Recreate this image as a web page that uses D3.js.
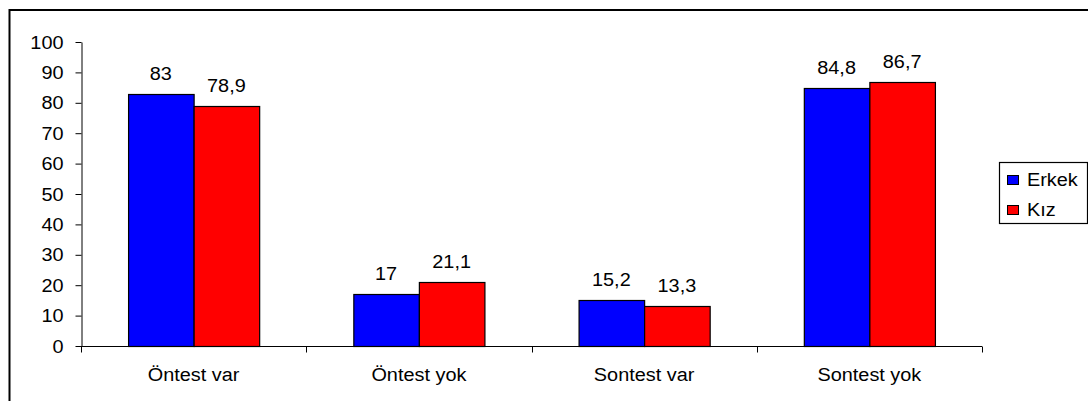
<!DOCTYPE html>
<html>
<head>
<meta charset="utf-8">
<script src="https://cdn.jsdelivr.net/npm/d3@7"></script>
<style>
  html, body { margin: 0; padding: 0; background: #fff; }
  svg { display: block; }
  text { font-family: "Liberation Sans", Arial, sans-serif; fill: #000; }
</style>
</head>
<body>
<svg id="chart" width="1088" height="401"></svg>
<script>
// Data
const categories = ["Öntest var", "Öntest yok", "Sontest var", "Sontest yok"];
const seriesNames = ["Erkek", "Kız"];
const erkek = [83, 17, 15.2, 84.8];
const kiz = [78.9, 21.1, 13.3, 86.7];
const yTicks = [0, 10, 20, 30, 40, 50, 60, 70, 80, 90, 100];
const colors = ["#0000FF", "#FF0000"];

const seriesValues = [erkek, kiz];
const rows = categories.map((c, i) => ({
  category: c,
  values: seriesNames.map((s, j) => ({ series: s, value: seriesValues[j][i], color: colors[j] }))
}));

const fmt = v => String(v).replace(".", ",");
const FS = 17.6;   // font size
const SX = 1.13;   // horizontal text stretch

const svg = d3.select("#chart");

// Outer frame
svg.append("rect")
  .attr("x", 9.5).attr("y", 10)
  .attr("width", 1100).attr("height", 420)
  .attr("fill", "none").attr("stroke", "#000").attr("stroke-width", 2);

const plot = { left: 81, right: 982, top: 42, bottom: 346 };

const x = d3.scaleBand()
  .domain(categories)
  .range([plot.left, plot.right])
  .paddingInner(0.418)
  .paddingOuter(0.209);

const xs = d3.scaleBand()
  .domain(seriesNames)
  .range([0, x.bandwidth()]);

const y = d3.scaleLinear()
  .domain([0, 100])
  .range([plot.bottom, plot.top]);

// Bars
const groups = svg.append("g").selectAll("g")
  .data(rows).enter().append("g")
  .attr("transform", d => `translate(${x(d.category)},0)`);

groups.selectAll("rect")
  .data(d => d.values).enter().append("rect")
  .attr("x", d => xs(d.series) + 0.5)
  .attr("y", d => Math.round(y(d.value)) + 0.5)
  .attr("width", xs.bandwidth())
  .attr("height", d => plot.bottom - Math.round(y(d.value)))
  .attr("fill", d => d.color)
  .attr("stroke", "#000")
  .attr("stroke-width", 1.2);

// Value labels
groups.selectAll("text")
  .data(d => d.values).enter().append("text")
  .attr("text-anchor", "middle")
  .attr("font-size", FS)
  .attr("transform", d => `translate(${xs(d.series) + xs.bandwidth() / 2},${y(d.value) - 14}) scale(${SX},1)`)
  .text(d => fmt(d.value));

// Y axis
const yAxis = svg.append("g")
  .attr("transform", `translate(${plot.left + 0.5},0)`)
  .call(d3.axisLeft(y).tickValues(yTicks).tickSize(6).tickSizeOuter(0).tickFormat(d => d));
yAxis.select(".domain").attr("stroke", "#000");
yAxis.selectAll(".tick line").attr("stroke", "#000");
yAxis.selectAll(".tick text")
  .attr("x", null).attr("dy", null)
  .attr("font-size", FS)
  .attr("font-family", null)
  .attr("text-anchor", "end")
  .attr("transform", `translate(-18,6) scale(${SX},1)`);

// X axis with category boundary ticks
const boundaries = categories.map(c => x(c) - x.step() * x.paddingInner() / 2)
  .concat([plot.right]);
const xAxis = svg.append("g")
  .attr("transform", `translate(0,${plot.bottom + 0.5})`);
xAxis.append("line")
  .attr("x1", plot.left).attr("x2", plot.right)
  .attr("stroke", "#000");
xAxis.selectAll(".bt")
  .data(boundaries).enter().append("line")
  .attr("class", "bt")
  .attr("x1", d => Math.round(d) + 0.5).attr("x2", d => Math.round(d) + 0.5)
  .attr("y1", 0).attr("y2", 6)
  .attr("stroke", "#000");
xAxis.selectAll(".cl")
  .data(categories).enter().append("text")
  .attr("class", "cl")
  .attr("text-anchor", "middle")
  .attr("font-size", FS)
  .attr("transform", d => `translate(${x(d) + x.bandwidth() / 2},34.5) scale(${SX},1)`)
  .text(d => d);

// Legend
const legend = svg.append("g").attr("transform", "translate(999.5,162.5)");
legend.append("rect")
  .attr("width", 88).attr("height", 61)
  .attr("fill", "#fff").attr("stroke", "#000").attr("stroke-width", 1.2);
const items = legend.selectAll(".li")
  .data(seriesNames).enter().append("g")
  .attr("class", "li")
  .attr("transform", (d, i) => `translate(0,${i * 30})`);
items.append("rect")
  .attr("x", 8).attr("y", 13)
  .attr("width", 11).attr("height", 9)
  .attr("fill", (d, i) => colors[i])
  .attr("stroke", "#000");
items.append("text")
  .attr("font-size", FS)
  .attr("transform", `translate(27.5,23.5) scale(${SX},1)`)
  .text(d => d);
</script>
</body>
</html>
